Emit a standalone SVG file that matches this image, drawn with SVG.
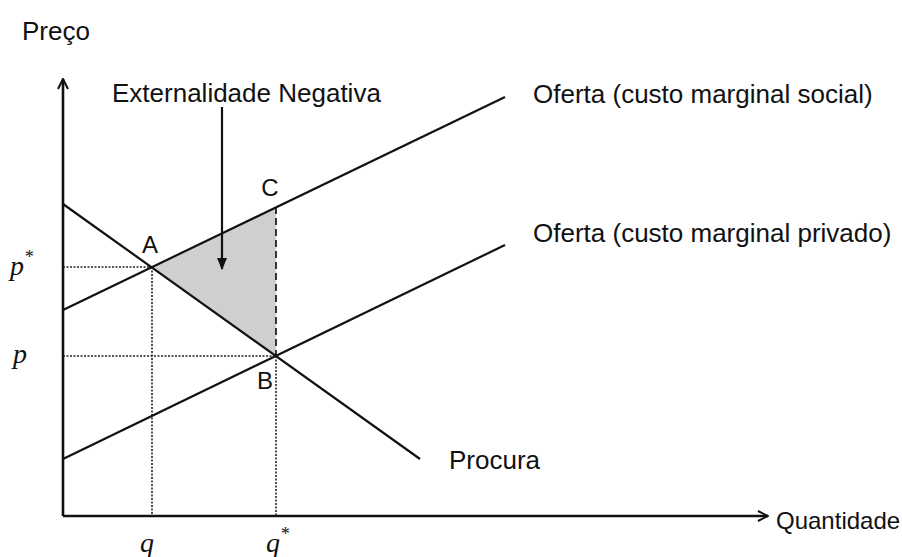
<svg xmlns="http://www.w3.org/2000/svg" width="902" height="557" viewBox="0 0 902 557">
<defs>
<style>
.lbl{font-family:"Liberation Sans",Arial,sans-serif;font-size:26px;fill:#111}
.pt{font-family:"Liberation Sans",Arial,sans-serif;font-size:24px;fill:#111;text-anchor:middle}
.math{font-family:"Liberation Serif","Times New Roman",serif;font-style:italic;font-size:28px;fill:#111}
.curve{stroke:#111;stroke-width:2.2;fill:none}
.axis{stroke:#111;stroke-width:2.6;fill:none}
.dot{stroke:#222;stroke-width:1.6;stroke-dasharray:2 1.5;fill:none}
.dash{stroke:#222;stroke-width:1.8;stroke-dasharray:7 4;fill:none}
</style>
<marker id="open" viewBox="0 0 12 12" refX="11" refY="6" markerWidth="12" markerHeight="12" markerUnits="userSpaceOnUse" orient="auto">
<path d="M1,1 L11,6 L1,11" fill="none" stroke="#111" stroke-width="2"/>
</marker>
<marker id="solid" viewBox="0 0 12 12" refX="11" refY="6" markerWidth="12" markerHeight="12" markerUnits="userSpaceOnUse" orient="auto">
<path d="M0,1 L12,6 L0,11 Z" fill="#111"/>
</marker>
</defs>
<rect width="902" height="557" fill="#fff"/>
<g id="area">
<polygon points="152,267 276,207 276,356" fill="#cfcfcf"/>
</g>
<g id="connectors">
<line class="axis" x1="63" y1="516" x2="63" y2="79" marker-end="url(#open)"/>
<line class="axis" x1="63" y1="516" x2="768" y2="516" marker-end="url(#open)"/>
<line class="dot" x1="63" y1="267" x2="152" y2="267"/>
<line class="dot" x1="63" y1="356" x2="276" y2="356"/>
<line class="dot" x1="152" y1="267" x2="152" y2="516"/>
<line class="dot" x1="276" y1="356" x2="276" y2="516"/>
<line class="dash" x1="276" y1="207" x2="276" y2="356"/>
<line class="curve" x1="63" y1="204" x2="420" y2="459"/>
<line class="curve" x1="63" y1="310" x2="505" y2="97"/>
<line class="curve" x1="63" y1="459" x2="505" y2="245"/>
<line class="curve" x1="222" y1="107" x2="222" y2="269" stroke-width="1.8" marker-end="url(#solid)"/>
</g>
<g id="labels">
<text class="lbl" x="22" y="40">Preço</text>
<text class="lbl" x="112" y="102">Externalidade Negativa</text>
<text class="lbl" x="533" y="103">Oferta (custo marginal social)</text>
<text class="lbl" x="533" y="242">Oferta (custo marginal privado)</text>
<text class="lbl" x="449" y="469">Procura</text>
<text class="lbl" x="776" y="529" style="font-size:24px">Quantidade</text>
<text class="pt" x="270" y="196">C</text>
<text class="pt" x="150" y="253">A</text>
<text class="pt" x="265" y="389">B</text>
<text class="math" x="10" y="275">p<tspan font-size="18" dy="-12">*</tspan></text>
<text class="math" x="13" y="363">p</text>
<text class="math" x="140" y="552">q</text>
<text class="math" x="266" y="552">q<tspan font-size="18" dy="-12">*</tspan></text>
</g>
</svg>
